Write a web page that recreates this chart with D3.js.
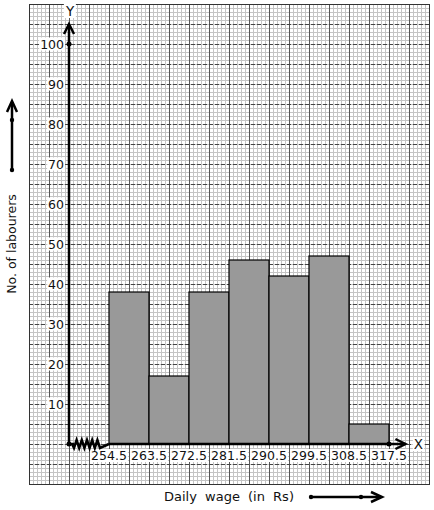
<!DOCTYPE html>
<html lang="en">
<head>
<meta charset="UTF-8" />
<title>Daily wage histogram</title>
<script src="https://d3js.org/d3.v7.min.js"></script>
<style>
  body { margin: 0; background: #fff; }
  svg { display: block; font-family: "DejaVu Sans", sans-serif; }
  .minor { stroke: #c4c4c4; stroke-width: 1; }
  .major-v { stroke: #555; stroke-width: 1; }
  .major-h { stroke: #444; stroke-width: 1; stroke-dasharray: 4,2; }
  .bar { fill: #999; stroke: #000; stroke-width: 1.2; }
  .axis { stroke: #000; stroke-width: 2.5; fill: none; }
  .lbl { font-size: 12px; fill: #111; }
</style>
</head>
<body>
<svg width="434" height="510"></svg>
<script>
const classEdges = [254.5, 263.5, 272.5, 281.5, 290.5, 299.5, 308.5, 317.5];
const labourers = [38, 17, 38, 46, 42, 47, 5];
const yTicks = [10, 20, 30, 40, 50, 60, 70, 80, 90, 100];

const svg = d3.select('svg');
const x = d3.scaleLinear().domain([236.5, 326.5]).range([29, 429]);
const y = d3.scaleLinear().domain([-10, 110]).range([484, 4]);

const grid = svg.append('g');
// minor grid, every 4px
for (let px = 29; px <= 429; px += 4) {
    grid.append('line').attr('class', 'minor').attr('x1', px + 0.5).attr('x2', px + 0.5).attr('y1', 4).attr('y2', 484);
}
for (let py = 4; py <= 484; py += 4) {
    grid.append('line').attr('class', 'minor').attr('y1', py + 0.5).attr('y2', py + 0.5).attr('x1', 29).attr('x2', 429);
}
// major grid
for (let px = 49; px < 429; px += 20) {
    grid.append('line').attr('class', 'major-v').attr('x1', px + 0.5).attr('x2', px + 0.5).attr('y1', 4).attr('y2', 484);
}
for (let py = 24; py < 484; py += 20) {
    grid.append('line').attr('class', 'major-h').attr('y1', py + 0.5).attr('y2', py + 0.5).attr('x1', 29).attr('x2', 429);
}
grid.append('rect').attr('x', 29.5).attr('y', 4.5).attr('width', 400).attr('height', 480)
    .attr('fill', 'none').attr('stroke', '#333').attr('stroke-width', 1);

// bars
const bins = labourers.map((v, i) => ({ x0: classEdges[i], x1: classEdges[i + 1], v }));
svg.append('g').selectAll('rect').data(bins).join('rect')
    .attr('class', 'bar')
    .attr('x', d => x(d.x0))
    .attr('width', d => x(d.x1) - x(d.x0))
    .attr('y', d => y(d.v))
    .attr('height', d => y(0) - y(d.v));

const ox = x(245.5), oy = y(0);

// label with white background
function boxedText(g, tx, ty, txt, anchor, size) {
    const t = g.append('text').attr('class', 'lbl').attr('x', tx).attr('y', ty)
        .attr('text-anchor', anchor).text(txt);
    if (size) t.style('font-size', size + 'px');
    const b = t.node().getBBox();
    g.insert('rect', 'text').attr('x', b.x - 1).attr('y', b.y + 1).attr('width', b.width + 2)
        .attr('height', b.height - 2).attr('fill', '#fff');
}

const labels = svg.append('g');
yTicks.forEach(v => {
    const g = labels.append('g');
    boxedText(g, ox - 5, y(v) + 4.5, v, 'end', 12.5);
});
classEdges.forEach(v => {
    const g = labels.append('g');
    boxedText(g, x(v), oy + 16, v, 'middle', 12.5);
});

// axes
const tipX = 321.2;
const ax = svg.append('g');
ax.append('line').attr('class', 'axis').attr('x1', ox).attr('y1', oy).attr('x2', ox).attr('y2', y(105));
ax.append('path').attr('class', 'axis').attr('stroke-width', 2)
    .attr('d', `M${ox - 5},${y(102.5)}L${ox},${y(105)}L${ox + 5},${y(102.5)}`);
ax.append('line').attr('class', 'axis').attr('x1', x(254.5)).attr('y1', oy).attr('x2', x(tipX)).attr('y2', oy);
ax.append('path').attr('class', 'axis').attr('stroke-width', 2)
    .attr('d', `M${x(tipX) - 10},${oy - 5}L${x(tipX)},${oy}L${x(tipX) - 10},${oy + 5}`);
ax.append('line').attr('class', 'axis').attr('x1', ox).attr('y1', oy).attr('x2', ox + 5).attr('y2', oy);

// zigzag break
const zz = [[ox + 3, oy]];
const zx0 = ox + 5, zx1 = x(254.5) - 9;
const n = 10;
for (let i = 0; i <= n; i++) {
    zz.push([zx0 + (zx1 - zx0) * i / n, oy + (i % 2 ? -4 : 4)]);
}
zz.push([x(254.5), oy]);
ax.append('path').attr('class', 'axis').attr('stroke-width', 2.5).attr('d', d3.line()(zz));

ax.append('circle').attr('cx', ox).attr('cy', oy).attr('r', 2.5);
ax.append('circle').attr('cx', ox).attr('cy', y(100)).attr('r', 2.5);
ax.append('circle').attr('cx', x(317.5)).attr('cy', oy).attr('r', 2.5);

// axis letters
const gy = svg.append('g');
boxedText(gy, ox + 1, 16, 'Y', 'middle', 13.5);
const gx = svg.append('g');
boxedText(gx, x(tipX) + 13, oy + 5, 'X', 'middle', 13.5);

// axis titles
svg.append('text').attr('class', 'lbl').attr('transform', 'translate(16,244) rotate(-90)')
    .style('font-size', '12.5px').attr('text-anchor', 'middle').text('No. of labourers');
svg.append('text').attr('class', 'lbl').attr('x', 229).attr('y', 501)
    .style('font-size', '13px').style('word-spacing', '4px')
    .attr('text-anchor', 'middle').text('Daily wage (in Rs)');

// little direction arrows
const da = svg.append('g');
da.append('line').attr('class', 'axis').attr('stroke-width', 2).attr('x1', 12).attr('y1', 170).attr('x2', 12).attr('y2', 102);
da.append('path').attr('class', 'axis').attr('stroke-width', 1.8).attr('d', 'M7,112L12,101L17,112');
da.append('circle').attr('cx', 12).attr('cy', 120).attr('r', 2.2);
da.append('circle').attr('cx', 12).attr('cy', 170).attr('r', 2.2);

da.append('line').attr('class', 'axis').attr('stroke-width', 2).attr('x1', 311).attr('y1', 497).attr('x2', 381).attr('y2', 497);
da.append('path').attr('class', 'axis').attr('stroke-width', 1.8).attr('d', 'M371,492L382,497L371,502');
da.append('circle').attr('cx', 311).attr('cy', 497).attr('r', 2.2);
da.append('circle').attr('cx', 361).attr('cy', 497).attr('r', 2.2);
</script>
</body>
</html>
